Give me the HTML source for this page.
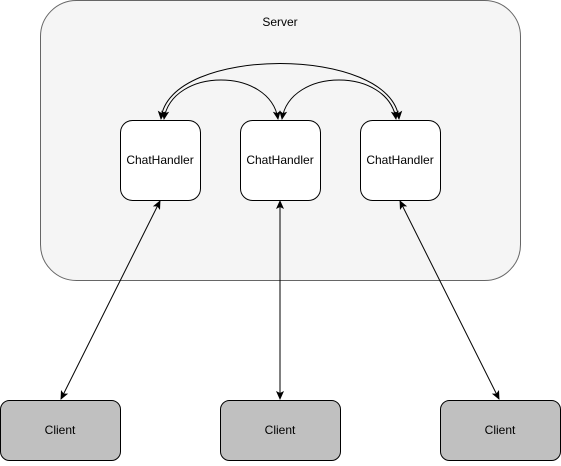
<!DOCTYPE html>
<html><head><style>body{margin:0;background:#fff}</style></head><body>
<svg width="561" height="461" viewBox="0 0 561 461" xmlns="http://www.w3.org/2000/svg" font-family="Liberation Sans, sans-serif">
<defs><marker id="a" markerWidth="10" markerHeight="10" refX="8" refY="5" orient="auto-start-reverse" markerUnits="userSpaceOnUse"><path d="M0,1 L9,5 L0,9 L2,5 z" fill="#000"/></marker></defs>
<rect x="40.5" y="0.5" width="480" height="280" rx="36" fill="#f5f5f5" stroke="#666"/>
<text x="280" y="26" font-size="12" text-anchor="middle">Server</text>
<g fill="#fff" stroke="#000">
<rect x="120.5" y="120.5" width="80" height="80" rx="12"/>
<rect x="240.5" y="120.5" width="80" height="80" rx="12"/>
<rect x="360.5" y="120.5" width="80" height="80" rx="12"/>
</g>
<g font-size="12" text-anchor="middle"><text x="160" y="164">ChatHandler</text><text x="280" y="164">ChatHandler</text><text x="400" y="164">ChatHandler</text></g>
<g fill="#c0c0c0" stroke="#000">
<rect x="0.5" y="400.5" width="120" height="60" rx="9"/>
<rect x="220.5" y="400.5" width="120" height="60" rx="9"/>
<rect x="440.5" y="400.5" width="120" height="60" rx="9"/>
</g>
<g font-size="12" text-anchor="middle"><text x="60" y="434">Client</text><text x="280" y="434">Client</text><text x="500" y="434">Client</text></g>
<g fill="none" stroke="#000" stroke-width="1" marker-start="url(#a)" marker-end="url(#a)">
<path d="M161,119 C168,45 392,45 399,119"/>
<path d="M164,119 C172,67 270,67 278,119"/>
<path d="M282,119 C290,67 388,67 396,119"/>
<line x1="160" y1="201" x2="61" y2="399"/>
<line x1="280" y1="201" x2="280" y2="399"/>
<line x1="400" y1="201" x2="499" y2="399"/>
</g>
</svg>
</body></html>
